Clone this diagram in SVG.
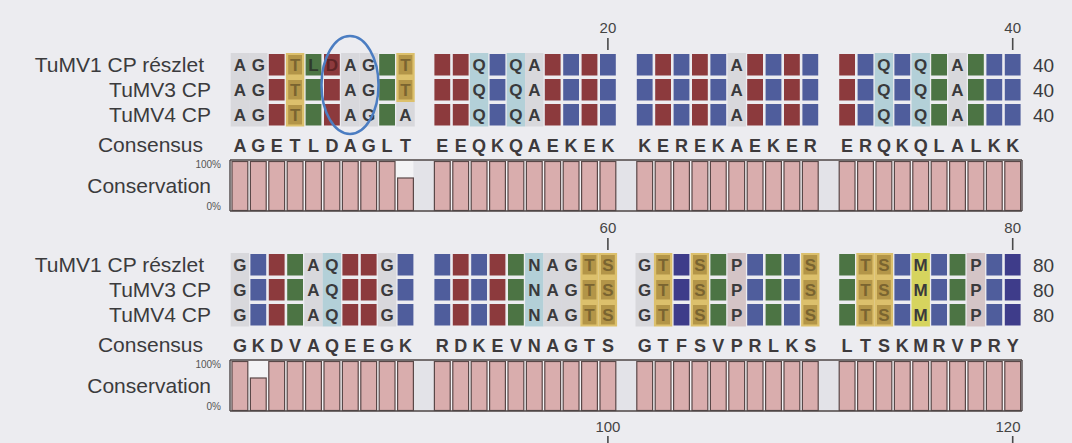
<svg xmlns="http://www.w3.org/2000/svg" width="1072" height="443" viewBox="0 0 1072 443">
  <style>
    .lbl { font-family: "Liberation Sans", Arial, sans-serif; font-size: 21px; fill: #3b3b3d; }
    .num { font-family: "Liberation Sans", Arial, sans-serif; font-size: 19px; fill: #3b3b3d; }
    .idx { font-family: "Liberation Sans", Arial, sans-serif; font-size: 15px; fill: #444; text-anchor: middle; }
    .pct { font-family: "Liberation Sans", Arial, sans-serif; font-size: 10px; fill: #555; text-anchor: end; }
    .lt  { font-family: "Liberation Sans", Arial, sans-serif; font-size: 17px; font-weight: bold; fill: #3a3a3c; text-anchor: middle; }
    .fl  { font-family: "Liberation Sans", Arial, sans-serif; font-size: 17px; font-weight: bold; fill: #7a6430; text-anchor: middle; }
    .cs  { font-family: "Liberation Sans", Arial, sans-serif; font-size: 18px; font-weight: bold; fill: #3d3a3c; text-anchor: middle; }
    .tick { stroke: #4a4a4a; stroke-width: 1.6; }
    .red { fill: #8c3a3d; }
    .blu { fill: #4f5d9c; }
    .grn { fill: #4c7444; }
    .drk { fill: #3e3c8a; }
    .ytile { fill: #b39548; }
    .yband { fill: #dcc06c; }
    .gray { fill: #d8d8dc; }
    .cyan { fill: #b3d0d8; }
    .pink { fill: #d4c4c6; }
    .mband { fill: #d6d45e; }
    .frame { stroke: #4e4646; stroke-width: 1.4; }
  </style>
  <defs>
    <!-- one alignment column = three stacked residue tiles -->
    <g id="cR" class="red"><rect width="15.8" height="21.5"/><rect y="25" width="15.8" height="21.5"/><rect y="50" width="15.8" height="21.5"/></g>
    <g id="cB" class="blu"><rect width="15.8" height="21.5"/><rect y="25" width="15.8" height="21.5"/><rect y="50" width="15.8" height="21.5"/></g>
    <g id="cG" class="grn"><rect width="15.8" height="21.5"/><rect y="25" width="15.8" height="21.5"/><rect y="50" width="15.8" height="21.5"/></g>
    <g id="cD" class="drk"><rect width="15.8" height="21.5"/><rect y="25" width="15.8" height="21.5"/><rect y="50" width="15.8" height="21.5"/></g>
    <g id="cY">
      <rect class="yband" x="-1.3" y="-1" width="18.4" height="73.5"/>
      <g class="ytile"><rect x="1" y="1" width="13.8" height="19.5"/><rect x="1" y="26" width="13.8" height="19.5"/><rect x="1" y="51" width="13.8" height="19.5"/></g>
    </g>
    <rect id="bA" class="gray" x="-1.3" y="-1" width="18.4" height="73.5"/>
    <rect id="bQ" class="cyan" x="-1.3" y="-1" width="18.4" height="73.5"/>
    <rect id="bP" class="pink" x="-1.3" y="-1" width="18.4" height="73.5"/>
    <rect id="bM" class="mband" x="-1.3" y="-1" width="18.4" height="73.5"/>
    <rect id="bar" width="15.8" height="49" fill="#d9adad" stroke="#5a4848" stroke-width="1.2"/>
    <rect id="lowbar" width="15.8" height="32.5" fill="#d9adad" stroke="#5a4848" stroke-width="1.2"/>
  </defs>

  <rect width="1072" height="443" fill="#ececf0"/>

  <!-- ============ rows 1-40 ============ -->
  <g id="panel-1">
    <g id="ruler-1">
      <text class="idx" x="607.9" y="33">20</text>
      <line class="tick" x1="607.9" y1="38" x2="607.9" y2="50"/>
      <text class="idx" x="1012.7" y="33">40</text>
      <line class="tick" x1="1012.7" y1="38" x2="1012.7" y2="50"/>
    </g>

    <g id="labels-1">
      <text class="lbl" x="204" y="72" text-anchor="end">TuMV1 CP részlet</text>
      <text class="lbl" x="211" y="97" text-anchor="end">TuMV3 CP</text>
      <text class="lbl" x="211" y="122" text-anchor="end">TuMV4 CP</text>
      <text class="lbl" x="203" y="152" text-anchor="end">Consensus</text>
      <text class="lbl" x="211" y="193" text-anchor="end">Conservation</text>
      <text class="pct" x="221" y="168">100%</text>
      <text class="pct" x="221" y="210">0%</text>
      <text class="num" x="1033" y="72">40</text>
      <text class="num" x="1033" y="97">40</text>
      <text class="num" x="1033" y="122">40</text>
    </g>

    <g id="tiles-1" transform="translate(0,54)">
      <!-- 1-10 -->
      <use href="#bA" x="232"/><use href="#bA" x="250.4"/><use href="#cR" x="268.8"/><use href="#cY" x="287.2"/>
      <use href="#cG" x="305.6"/><use href="#cR" x="324"/><use href="#bA" x="342.4"/><use href="#bA" x="360.8"/>
      <use href="#cG" x="379.2"/>
      <rect class="yband" x="396.3" y="-1" width="18.4" height="49"/>
      <rect class="ytile" x="398.6" y="1" width="13.8" height="19.5"/>
      <rect class="ytile" x="398.6" y="26" width="13.8" height="19.5"/>
      <rect class="gray" x="396.3" y="48" width="18.4" height="24.5"/>
      <!-- 11-20 -->
      <use href="#cR" x="434.4"/><use href="#cR" x="452.8"/><use href="#bQ" x="471.2"/><use href="#cB" x="489.6"/>
      <use href="#bQ" x="508"/><use href="#bA" x="526.4"/><use href="#cR" x="544.8"/><use href="#cB" x="563.2"/>
      <use href="#cR" x="581.6"/><use href="#cB" x="600"/>
      <!-- 21-30 -->
      <use href="#cB" x="636.8"/><use href="#cR" x="655.2"/><use href="#cB" x="673.6"/><use href="#cR" x="692"/>
      <use href="#cB" x="710.4"/><use href="#bA" x="728.8"/><use href="#cR" x="747.2"/><use href="#cB" x="765.6"/>
      <use href="#cR" x="784"/><use href="#cB" x="802.4"/>
      <!-- 31-40 -->
      <use href="#cR" x="839.2"/><use href="#cB" x="857.6"/><use href="#bQ" x="876"/><use href="#cB" x="894.4"/>
      <use href="#bQ" x="912.8"/><use href="#cG" x="931.2"/><use href="#bA" x="949.6"/><use href="#cG" x="968"/>
      <use href="#cB" x="986.4"/><use href="#cB" x="1004.8"/>
    </g>

    <g id="residues-1">
      <text class="lt" x="239.9 258.3" y="71">AG</text>
      <text class="fl" x="295.1" y="71">T</text>
      <text class="lt" x="313.5" y="71" style="fill:#2f3b2c">L</text>
      <text class="lt" x="331.9" y="71" style="fill:#5e2426">D</text>
      <text class="lt" x="350.3 368.7" y="71">AG</text>
      <text class="fl" x="405.5" y="71">T</text>
      <text class="lt" x="479.1" y="71">Q</text>
      <text class="lt" x="515.9 534.3" y="71">QA</text>
      <text class="lt" x="736.7" y="71">A</text>
      <text class="lt" x="883.9" y="71">Q</text>
      <text class="lt" x="920.7" y="71">Q</text>
      <text class="lt" x="957.5" y="71">A</text>

      <text class="lt" x="239.9 258.3" y="96">AG</text>
      <text class="fl" x="295.1" y="96">T</text>
      <text class="lt" x="350.3 368.7" y="96">AG</text>
      <text class="fl" x="405.5" y="96">T</text>
      <text class="lt" x="479.1" y="96">Q</text>
      <text class="lt" x="515.9 534.3" y="96">QA</text>
      <text class="lt" x="736.7" y="96">A</text>
      <text class="lt" x="883.9" y="96">Q</text>
      <text class="lt" x="920.7" y="96">Q</text>
      <text class="lt" x="957.5" y="96">A</text>

      <text class="lt" x="239.9 258.3" y="121">AG</text>
      <text class="fl" x="295.1" y="121">T</text>
      <text class="lt" x="350.3 368.7" y="121">AG</text>
      <text class="lt" x="405.5" y="121">A</text>
      <text class="lt" x="479.1" y="121">Q</text>
      <text class="lt" x="515.9 534.3" y="121">QA</text>
      <text class="lt" x="736.7" y="121">A</text>
      <text class="lt" x="883.9" y="121">Q</text>
      <text class="lt" x="920.7" y="121">Q</text>
      <text class="lt" x="957.5" y="121">A</text>
    </g>

    <g id="consensus-1">
      <text class="cs" x="239.9 258.3 276.7 295.1 313.5 331.9 350.3 368.7 387.1 405.5" y="152">AGETLDAGLT</text>
      <text class="cs" x="442.3 460.7 479.1 497.5 515.9 534.3 552.7 571.1 589.5 607.9" y="152">EEQKQAEKEK</text>
      <text class="cs" x="644.7 663.1 681.5 699.9 718.3 736.7 755.1 773.5 791.9 810.3" y="152">KEREKAEKER</text>
      <text class="cs" x="847.1 865.5 883.9 902.3 920.7 939.1 957.5 975.9 994.3 1012.7" y="152">ERQKQLALKK</text>
    </g>

    <g id="conservation-1">
      <rect x="230" y="160" width="792" height="51" fill="#f3f3f5"/>
      <rect x="413.4" y="160" width="21" height="51" fill="#e3e3e8"/>
      <rect x="615.8" y="160" width="21" height="51" fill="#e3e3e8"/>
      <rect x="818.2" y="160" width="21" height="51" fill="#e3e3e8"/>
      <g transform="translate(0,161.5)">
        <use href="#bar" x="232"/><use href="#bar" x="250.4"/><use href="#bar" x="268.8"/><use href="#bar" x="287.2"/><use href="#bar" x="305.6"/>
        <use href="#bar" x="324"/><use href="#bar" x="342.4"/><use href="#bar" x="360.8"/><use href="#bar" x="379.2"/><use href="#lowbar" x="397.6" y="16.5"/>
        <use href="#bar" x="434.4"/><use href="#bar" x="452.8"/><use href="#bar" x="471.2"/><use href="#bar" x="489.6"/><use href="#bar" x="508"/>
        <use href="#bar" x="526.4"/><use href="#bar" x="544.8"/><use href="#bar" x="563.2"/><use href="#bar" x="581.6"/><use href="#bar" x="600"/>
        <use href="#bar" x="636.8"/><use href="#bar" x="655.2"/><use href="#bar" x="673.6"/><use href="#bar" x="692"/><use href="#bar" x="710.4"/>
        <use href="#bar" x="728.8"/><use href="#bar" x="747.2"/><use href="#bar" x="765.6"/><use href="#bar" x="784"/><use href="#bar" x="802.4"/>
        <use href="#bar" x="839.2"/><use href="#bar" x="857.6"/><use href="#bar" x="876"/><use href="#bar" x="894.4"/><use href="#bar" x="912.8"/>
        <use href="#bar" x="931.2"/><use href="#bar" x="949.6"/><use href="#bar" x="968"/><use href="#bar" x="986.4"/><use href="#bar" x="1004.8"/>
      </g>
      <line class="frame" x1="230" y1="160" x2="1022" y2="160"/>
      <line class="frame" x1="230" y1="211" x2="1022" y2="211"/>
      <line class="frame" x1="230" y1="160" x2="230" y2="211"/>
      <line class="frame" x1="1022" y1="160" x2="1022" y2="211"/>
    </g>

    <!-- hand-drawn highlight around the DAG motif -->
    <ellipse id="motif-ring" cx="350" cy="85" rx="28.5" ry="49" fill="none" stroke="#4b7dc2" stroke-width="2.5"/>
  </g>

  <!-- ============ rows 41-80 ============ -->
  <g id="panel-2" transform="translate(0,200)">
    <g id="ruler-2">
      <text class="idx" x="607.9" y="33">60</text>
      <line class="tick" x1="607.9" y1="38" x2="607.9" y2="50"/>
      <text class="idx" x="1012.7" y="33">80</text>
      <line class="tick" x1="1012.7" y1="38" x2="1012.7" y2="50"/>
    </g>

    <g id="labels-2">
      <text class="lbl" x="204" y="72" text-anchor="end">TuMV1 CP részlet</text>
      <text class="lbl" x="211" y="97" text-anchor="end">TuMV3 CP</text>
      <text class="lbl" x="211" y="122" text-anchor="end">TuMV4 CP</text>
      <text class="lbl" x="203" y="152" text-anchor="end">Consensus</text>
      <text class="lbl" x="211" y="193" text-anchor="end">Conservation</text>
      <text class="pct" x="221" y="168">100%</text>
      <text class="pct" x="221" y="210">0%</text>
      <text class="num" x="1033" y="72">80</text>
      <text class="num" x="1033" y="97">80</text>
      <text class="num" x="1033" y="122">80</text>
    </g>

    <g id="tiles-2" transform="translate(0,54)">
      <!-- 41-50 -->
      <use href="#bA" x="232"/><use href="#cB" x="250.4"/><use href="#cR" x="268.8"/><use href="#cG" x="287.2"/>
      <use href="#bA" x="305.6"/><use href="#bQ" x="324"/><use href="#cR" x="342.4"/><use href="#cR" x="360.8"/>
      <use href="#bA" x="379.2"/><use href="#cB" x="397.6"/>
      <!-- 51-60 -->
      <use href="#cB" x="434.4"/><use href="#cR" x="452.8"/><use href="#cB" x="471.2"/><use href="#cR" x="489.6"/>
      <use href="#cG" x="508"/><use href="#bQ" x="526.4"/><use href="#bA" x="544.8"/><use href="#bA" x="563.2"/>
      <use href="#cY" x="581.6"/><use href="#cY" x="600"/>
      <!-- 61-70 -->
      <use href="#bA" x="636.8"/><use href="#cY" x="655.2"/><use href="#cD" x="673.6"/><use href="#cY" x="692"/>
      <use href="#cG" x="710.4"/><use href="#bP" x="728.8"/><use href="#cB" x="747.2"/><use href="#cG" x="765.6"/>
      <use href="#cB" x="784"/><use href="#cY" x="802.4"/>
      <!-- 71-80 -->
      <use href="#cG" x="839.2"/><use href="#cY" x="857.6"/><use href="#cY" x="876"/><use href="#cB" x="894.4"/>
      <use href="#bM" x="912.8"/><use href="#cB" x="931.2"/><use href="#cG" x="949.6"/><use href="#bP" x="968"/>
      <use href="#cB" x="986.4"/><use href="#cD" x="1004.8"/>
    </g>

    <g id="residues-2">
      <text class="lt" x="239.9" y="71">G</text>
      <text class="lt" x="313.5 331.9" y="71">AQ</text>
      <text class="lt" x="387.1" y="71">G</text>
      <text class="lt" x="534.3 552.7 571.1" y="71">NAG</text>
      <text class="fl" x="589.5 607.9" y="71">TS</text>
      <text class="lt" x="644.7" y="71">G</text>
      <text class="fl" x="663.1" y="71">T</text>
      <text class="fl" x="699.9" y="71">S</text>
      <text class="lt" x="736.7" y="71">P</text>
      <text class="fl" x="810.3" y="71">S</text>
      <text class="fl" x="865.5 883.9" y="71">TS</text>
      <text class="lt" x="920.7" y="71">M</text>
      <text class="lt" x="975.9" y="71">P</text>

      <text class="lt" x="239.9" y="96">G</text>
      <text class="lt" x="313.5 331.9" y="96">AQ</text>
      <text class="lt" x="387.1" y="96">G</text>
      <text class="lt" x="534.3 552.7 571.1" y="96">NAG</text>
      <text class="fl" x="589.5 607.9" y="96">TS</text>
      <text class="lt" x="644.7" y="96">G</text>
      <text class="fl" x="663.1" y="96">T</text>
      <text class="fl" x="699.9" y="96">S</text>
      <text class="lt" x="736.7" y="96">P</text>
      <text class="fl" x="810.3" y="96">S</text>
      <text class="fl" x="865.5 883.9" y="96">TS</text>
      <text class="lt" x="920.7" y="96">M</text>
      <text class="lt" x="975.9" y="96">P</text>

      <text class="lt" x="239.9" y="121">G</text>
      <text class="lt" x="313.5 331.9" y="121">AQ</text>
      <text class="lt" x="387.1" y="121">G</text>
      <text class="lt" x="534.3 552.7 571.1" y="121">NAG</text>
      <text class="fl" x="589.5 607.9" y="121">TS</text>
      <text class="lt" x="644.7" y="121">G</text>
      <text class="fl" x="663.1" y="121">T</text>
      <text class="fl" x="699.9" y="121">S</text>
      <text class="lt" x="736.7" y="121">P</text>
      <text class="fl" x="810.3" y="121">S</text>
      <text class="fl" x="865.5 883.9" y="121">TS</text>
      <text class="lt" x="920.7" y="121">M</text>
      <text class="lt" x="975.9" y="121">P</text>
    </g>

    <g id="consensus-2">
      <text class="cs" x="239.9 258.3 276.7 295.1 313.5 331.9 350.3 368.7 387.1 405.5" y="152">GKDVAQEEGK</text>
      <text class="cs" x="442.3 460.7 479.1 497.5 515.9 534.3 552.7 571.1 589.5 607.9" y="152">RDKEVNAGTS</text>
      <text class="cs" x="644.7 663.1 681.5 699.9 718.3 736.7 755.1 773.5 791.9 810.3" y="152">GTFSVPRLKS</text>
      <text class="cs" x="847.1 865.5 883.9 902.3 920.7 939.1 957.5 975.9 994.3 1012.7" y="152">LTSKMRVPRY</text>
    </g>

    <g id="conservation-2">
      <rect x="230" y="160" width="792" height="51" fill="#f3f3f5"/>
      <rect x="413.4" y="160" width="21" height="51" fill="#e3e3e8"/>
      <rect x="615.8" y="160" width="21" height="51" fill="#e3e3e8"/>
      <rect x="818.2" y="160" width="21" height="51" fill="#e3e3e8"/>
      <g transform="translate(0,161.5)">
        <use href="#bar" x="232"/><use href="#lowbar" x="250.4" y="16.5"/><use href="#bar" x="268.8"/><use href="#bar" x="287.2"/><use href="#bar" x="305.6"/>
        <use href="#bar" x="324"/><use href="#bar" x="342.4"/><use href="#bar" x="360.8"/><use href="#bar" x="379.2"/><use href="#bar" x="397.6"/>
        <use href="#bar" x="434.4"/><use href="#bar" x="452.8"/><use href="#bar" x="471.2"/><use href="#bar" x="489.6"/><use href="#bar" x="508"/>
        <use href="#bar" x="526.4"/><use href="#bar" x="544.8"/><use href="#bar" x="563.2"/><use href="#bar" x="581.6"/><use href="#bar" x="600"/>
        <use href="#bar" x="636.8"/><use href="#bar" x="655.2"/><use href="#bar" x="673.6"/><use href="#bar" x="692"/><use href="#bar" x="710.4"/>
        <use href="#bar" x="728.8"/><use href="#bar" x="747.2"/><use href="#bar" x="765.6"/><use href="#bar" x="784"/><use href="#bar" x="802.4"/>
        <use href="#bar" x="839.2"/><use href="#bar" x="857.6"/><use href="#bar" x="876"/><use href="#bar" x="894.4"/><use href="#bar" x="912.8"/>
        <use href="#bar" x="931.2"/><use href="#bar" x="949.6"/><use href="#bar" x="968"/><use href="#bar" x="986.4"/><use href="#bar" x="1004.8"/>
      </g>
      <line class="frame" x1="230" y1="160" x2="1022" y2="160"/>
      <line class="frame" x1="230" y1="211" x2="1022" y2="211"/>
      <line class="frame" x1="230" y1="160" x2="230" y2="211"/>
      <line class="frame" x1="1022" y1="160" x2="1022" y2="211"/>
    </g>

    <!-- ruler of the next panel, cut by the page edge -->
    <g id="ruler-3">
      <text class="idx" x="607.9" y="232">100</text>
      <line class="tick" x1="607.9" y1="236" x2="607.9" y2="250"/>
      <text class="idx" x="1008" y="232">120</text>
      <line class="tick" x1="1012.7" y1="236" x2="1012.7" y2="250"/>
    </g>
  </g>
</svg>
